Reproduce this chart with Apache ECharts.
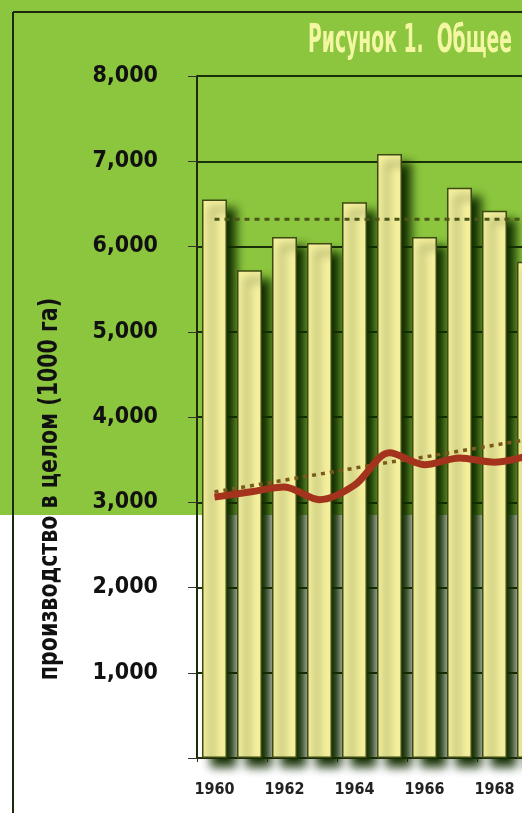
<!DOCTYPE html>
<html>
<head>
<meta charset="utf-8">
<script src="https://cdn.jsdelivr.net/npm/echarts@6/dist/echarts.min.js"></script>
<style>
html,body{margin:0;padding:0;overflow:hidden;background:#fff;width:522px;height:813px;}
#c{width:600px;height:813px;}
</style>
</head>
<body>
<div id="c"></div>
<script>
const years = ['1960','1961','1962','1963','1964','1965','1966','1967','1968','1969'];
const production = [6550, 5720, 6110, 6040, 6520, 7085, 6110, 6690, 6420, 5820];
const redLine = [3060, 3120, 3180, 3030, 3200, 3580, 3440, 3520, 3470, 3550];
const trendLine = [3120, 3190, 3260, 3330, 3400, 3470, 3530, 3600, 3670, 3740];
const averageLine = [6320, 6320, 6320, 6320, 6320, 6320, 6320, 6320, 6320, 6320];
const titleText = 'Рисунок 1.  Общее';
const yAxisName = 'производство в целом (1000 га)';

const FONT = "'DejaVu Sans Condensed','Liberation Sans Narrow','Liberation Sans',sans-serif";
const chart = echarts.init(document.getElementById('c'), null, {renderer:'canvas'});
chart.setOption({
  animation:false,
  backgroundColor:'#ffffff',
  grid:{left:197, right:53, top:76, bottom:55},
  graphic:[
    {type:'rect', z:-10, silent:true, shape:{x:0,y:0,width:600,height:515}, style:{fill:'#8cc63e'}},
    {type:'line', z:10, shape:{x1:13,y1:12,x2:600,y2:12}, style:{stroke:'#1b2a0c', lineWidth:2}},
    {type:'line', z:10, shape:{x1:13,y1:12,x2:13,y2:813}, style:{stroke:'#1b2a0c', lineWidth:2}},
    {type:'text', z:10, x:308, y:42, scaleX:0.535, scaleY:1,
      style:{text:titleText, font:"bold 39px "+FONT, fill:'#f3f6a2', textVerticalAlign:'middle', textAlign:'left'}},
    {type:'text', z:10, x:50, y:489, rotation:Math.PI/2, scaleX:0.88, scaleY:1,
      style:{text:yAxisName, font:"bold 26px "+FONT, fill:'#111', textVerticalAlign:'middle', textAlign:'center'}}
  ],
  xAxis:{
    type:'category', data:years, boundaryGap:true,
    axisLine:{lineStyle:{color:'#2a3210', width:2}},
    axisTick:{show:true, length:4, lineStyle:{color:'#2a3210'}},
    axisLabel:{interval:1, margin:24, fontFamily:FONT, fontWeight:'bold', fontSize:16, color:'#222'}
  },
  yAxis:{
    type:'value', min:0, max:8000, interval:1000,
    axisLine:{show:true, lineStyle:{color:'#1d2a0c', width:2}},
    axisTick:{show:true, inside:false, length:9, lineStyle:{color:'#333', width:1}},
    splitLine:{show:true, lineStyle:{color:'#1a3008', width:2}},
    axisLabel:{margin:39, fontFamily:FONT, fontWeight:'bold', fontSize:23, color:'#111',
      formatter:function(v){ return v===0 ? '' : v.toLocaleString('en-US'); }}
  },
  series:[
    {type:'bar', data:production, barWidth:25, z:2,
      itemStyle:{color:'#f6f19e', borderColor:'#3d4a12', borderWidth:1.5,
        shadowColor:'rgba(18,45,0,1)', shadowBlur:10, shadowOffsetX:9, shadowOffsetY:9}},
    {type:'line', data:averageLine, z:3, symbol:'none',
      lineStyle:{color:'#4a5518', width:3, type:[5,5]}},
    {type:'line', data:trendLine, z:4, symbol:'none',
      lineStyle:{color:'#7a5a1c', width:3.5, type:[4,5]}},
    {type:'line', data:redLine, z:5, symbol:'none', smooth:0.3,
      lineStyle:{color:'#a3331c', width:7}}
  ]
});
</script>
</body>
</html>
